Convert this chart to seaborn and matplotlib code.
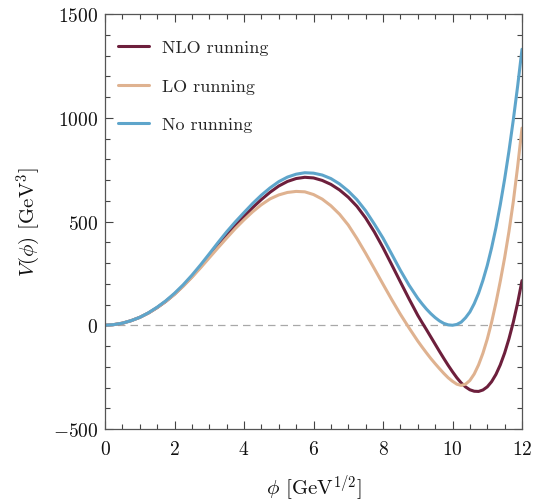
import numpy as np
import pandas as pd
import matplotlib
matplotlib.use("Agg")
import matplotlib.pyplot as plt
import seaborn as sns
from matplotlib.ticker import MultipleLocator

# Field values (GeV^{1/2}): coarser steps on the barrier, finer near the minima
phi = np.r_[np.arange(0, 9, 0.25), np.arange(9, 12.001, 0.125)]

# Effective potential V(phi) in GeV^3 for each treatment of the couplings
v_nlo = [0, 3, 10, 22, 38, 59, 85, 115, 150, 190,
         234, 282, 333, 385, 435, 481, 524, 567, 606, 641,
         671, 693, 707, 713, 710, 698, 679, 652, 617, 573,
         517, 450, 374, 292, 209, 127,
         48, 13, -21, -56, -91, -126, -160, -193, -224, -253,
         -278, -297, -311, -318, -319, -312, -297, -272, -237, -191,
         -134, -65, 15, 108, 215]
v_lo = [0, 3, 10, 22, 38, 59, 85, 115, 149, 188,
        231, 277, 325, 373, 420, 466, 508, 547, 581, 609,
        628, 640, 645, 643, 630, 608, 576, 535, 483, 418,
        347, 273, 198, 124, 53, -13,
        -76, -105, -133, -160, -185, -209, -232, -253, -270, -284,
        -290, -284, -266, -235, -191, -135, -67, 14, 108, 212,
        325, 452, 596, 765, 950]
v_none = [0, 3, 10, 22, 38, 60, 87, 118, 154, 195,
          241, 291, 344, 398, 450, 498, 543, 587, 627, 662,
          692, 714, 728, 735, 733, 724, 707, 681, 647, 605,
          552, 488, 420, 343, 265, 193,
          130, 103, 78, 56, 37, 21, 9, 2, 0, 4,
          15, 36, 64, 104, 154, 216, 288, 373, 470, 581,
          704, 840, 990, 1153, 1330]

labels = ["NLO running", "LO running", "No running"]
colors = ["#6d1f3c", "#dfb290", "#5ea5cb"]

df = pd.concat([
    pd.DataFrame({"phi": phi, "V": v, "model": name})
    for name, v in zip(labels, [v_nlo, v_lo, v_none])
], ignore_index=True)

sns.set_theme(style="ticks")
plt.rcParams.update({
    "font.family": "serif",
    "font.serif": ["cmr10"],
    "mathtext.fontset": "cm",
    "axes.formatter.use_mathtext": True,
    "axes.unicode_minus": True,
})

fig = plt.figure(figsize=(5.34, 5.02), dpi=100)
ax = fig.add_axes([105 / 534, 1 - 430 / 502, 417 / 534, 415 / 502])

ax.axhline(0, color="#a8a8a8", lw=0.9, ls=(0, (6, 4)), zorder=1)

sns.lineplot(data=df, x="phi", y="V", hue="model", hue_order=labels,
             palette=dict(zip(labels, colors)), lw=2.2, sort=False,
             estimator=None, ax=ax, zorder=2)
for line in ax.get_lines():
    line.set_solid_joinstyle("round")

ax.set_xlim(0, 12)
ax.set_ylim(-500, 1500)
ax.xaxis.set_major_locator(MultipleLocator(2))
ax.xaxis.set_minor_locator(MultipleLocator(0.5))
ax.yaxis.set_major_locator(MultipleLocator(500))
ax.yaxis.set_minor_locator(MultipleLocator(100))

for side in ax.spines.values():
    side.set_color("#555555")
    side.set_linewidth(0.9)
ax.tick_params(which="both", direction="in", top=True, right=True,
               color="#444444", width=0.8, labelsize=14, labelcolor="#111111")
ax.tick_params(which="major", length=6)
ax.tick_params(which="minor", length=3.5)
ax.tick_params(axis="x", which="major", pad=8)
ax.tick_params(axis="y", which="major", pad=5)

ax.set_xlabel(r"$\phi$ [GeV$^{1/2}$]", fontsize=15, labelpad=10, color="#111111")
ax.set_ylabel(r"$V(\phi)$ [GeV$^{3}$]", fontsize=15, labelpad=7, color="#111111")

handles, _ = ax.get_legend_handles_labels()
ax.legend(handles=handles, labels=labels, loc="upper left",
          bbox_to_anchor=(0, 1 - 13 / 415), frameon=False,
          fontsize=13, handlelength=1.75, handletextpad=0.7, labelspacing=1.27,
          borderaxespad=0.3)

fig.savefig("out.png", dpi=100)
